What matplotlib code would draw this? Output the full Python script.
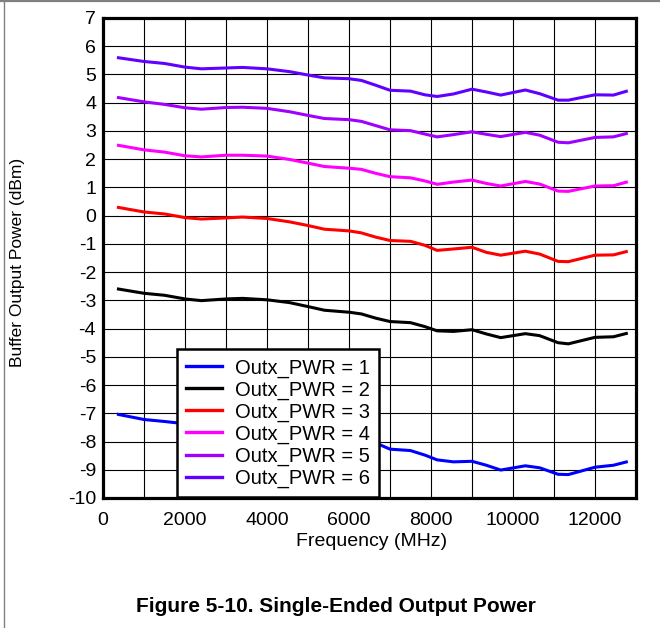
import matplotlib
matplotlib.use("Agg")
import matplotlib.pyplot as plt
from matplotlib.lines import Line2D

plt.rcParams['font.family'] = ['Liberation Sans', 'DejaVu Sans']
plt.rcParams['axes.unicode_minus'] = False

freq = [340, 1000, 1500, 2000, 2400, 3000, 3400, 4000, 4550, 5000, 5400, 6000, 6300,
        6650, 7000, 7500, 7850, 8150, 8550, 9000, 9350, 9700, 10300, 10650, 11100,
        11350, 12000, 12450, 12800]

pwr1 = [-7.03, -7.22, -7.29, -7.37, -7.43, -7.38, -7.36, -7.41, -7.52, -7.66, -7.79,
        -7.86, -7.92, -8.05, -8.27, -8.32, -8.48, -8.65, -8.72, -8.70, -8.84, -9.01,
        -8.86, -8.93, -9.16, -9.17, -8.91, -8.84, -8.71]
pwr2 = [-2.59, -2.75, -2.82, -2.95, -3.01, -2.95, -2.93, -2.98, -3.08, -3.22, -3.35,
        -3.42, -3.48, -3.63, -3.75, -3.79, -3.93, -4.08, -4.10, -4.04, -4.19, -4.32,
        -4.18, -4.25, -4.50, -4.54, -4.31, -4.29, -4.16]
pwr3 = [0.30, 0.13, 0.06, -0.07, -0.12, -0.08, -0.05, -0.10, -0.22, -0.35, -0.48,
        -0.54, -0.61, -0.76, -0.88, -0.91, -1.05, -1.23, -1.18, -1.12, -1.30, -1.40,
        -1.26, -1.36, -1.62, -1.63, -1.40, -1.39, -1.26]
pwr4 = [2.50, 2.33, 2.25, 2.12, 2.08, 2.14, 2.14, 2.11, 1.99, 1.86, 1.74, 1.68, 1.64,
        1.50, 1.38, 1.34, 1.23, 1.11, 1.19, 1.26, 1.14, 1.05, 1.21, 1.12, 0.87, 0.86,
        1.05, 1.06, 1.20]
pwr5 = [4.19, 4.03, 3.94, 3.82, 3.77, 3.83, 3.84, 3.80, 3.68, 3.55, 3.44, 3.40, 3.34,
        3.19, 3.04, 3.01, 2.89, 2.79, 2.87, 2.97, 2.88, 2.80, 2.95, 2.85, 2.60, 2.58,
        2.77, 2.79, 2.92]
pwr6 = [5.60, 5.46, 5.39, 5.26, 5.20, 5.23, 5.25, 5.20, 5.10, 4.98, 4.88, 4.85, 4.79,
        4.62, 4.44, 4.41, 4.28, 4.22, 4.31, 4.48, 4.38, 4.27, 4.45, 4.32, 4.09, 4.09,
        4.28, 4.27, 4.42]

series = [pwr1, pwr2, pwr3, pwr4, pwr5, pwr6]
labels = ["Outx_PWR = 1", "Outx_PWR = 2", "Outx_PWR = 3",
          "Outx_PWR = 4", "Outx_PWR = 5", "Outx_PWR = 6"]
colors = ["#0000FF", "#000000", "#FF0000", "#FF00FF", "#A100FF", "#6000FF"]

xticks = [0, 2000, 4000, 6000, 8000, 10000, 12000]
yticks = list(range(-10, 8))

fig = plt.figure(figsize=(6.6, 6.28), dpi=100)
ax = fig.add_axes([103 / 660, 1 - 498 / 628, (636 - 103) / 660, (498 - 18) / 628])

for vals, lab, col in zip(series, labels, colors):
    ax.plot(freq, vals, color=col, lw=2.2, label=lab, solid_capstyle='butt',
            solid_joinstyle='round', zorder=3)

ax.set_xlim(0, 13000)
ax.set_ylim(-10, 7)
ax.set_xticks(xticks)
ax.set_xticks(range(0, 13001, 1000), minor=True)
ax.set_yticks(yticks)
ax.grid(which='both', color='black', lw=0.8)
ax.tick_params(which='both', length=0, labelsize=14)
ax.tick_params(axis='x', pad=10)
ax.tick_params(axis='y', pad=5)
for s in ax.spines.values():
    s.set_linewidth(2.3)
    s.set_zorder(5)

ax.set_xlabel("Frequency (MHz)", fontsize=14)
ax.set_ylabel("Buffer Output Power (dBm)", fontsize=12.5)
ax.xaxis.set_label_coords(0.503, -0.073)
ax.yaxis.label.set_va('center')
ax.yaxis.set_label_coords(-0.161, 0.49)

handles = [Line2D([0], [0], color=c, lw=2.4) for c in colors]
leg = ax.legend(handles, labels, loc='lower left', bbox_to_anchor=(73 / 533, 0.0),
                fontsize=14.5, frameon=True, fancybox=False, framealpha=1,
                edgecolor='black', handlelength=1.8, handletextpad=0.65,
                labelspacing=0.14, borderpad=0.45, borderaxespad=0.05)
leg.get_frame().set_linewidth(1.8)
leg.set_zorder(6)

fig.text(0.509, 1 - 606 / 628, "Figure 5-10. Single-Ended Output Power",
         ha='center', va='center', fontsize=15, fontweight='bold')

# outer grey frame (top and left)
fig.add_artist(Line2D([0, 1], [1 - 1 / 628, 1 - 1 / 628], color='#808080', lw=1.6,
                      transform=fig.transFigure))
fig.add_artist(Line2D([3.5 / 660, 3.5 / 660], [0, 1], color='#808080', lw=1.0,
                      transform=fig.transFigure))

fig.savefig("out.png", dpi=100)
